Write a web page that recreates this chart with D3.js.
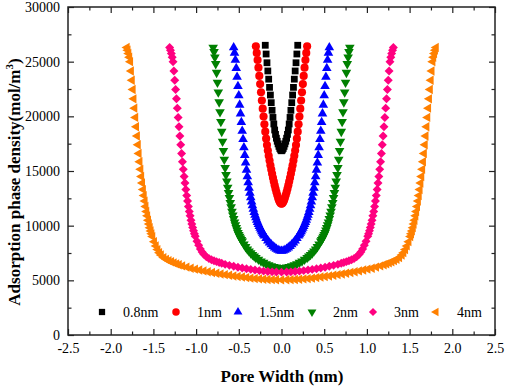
<!DOCTYPE html>
<html><head><meta charset="utf-8">
<script src="https://cdn.jsdelivr.net/npm/d3@7"></script>
<style>body{margin:0;background:#fff}svg{display:block}</style>
</head><body>
<svg id="chart" width="505" height="390"></svg>
<script>
// ---------------- data ----------------
const seriesNames = ["0.8nm","1nm","1.5nm","2nm","3nm","4nm"];
const seriesColors = ["#000000","#ff0000","#0000ff","#008000","#ff0080","#ff8000"];

const s08 = [[-0.19,26500],[-0.18,25700],[-0.17,24900],[-0.16,24150],[-0.15,23400],[-0.14,22650],[-0.13,21950],[-0.12,21250],[-0.11,20550],[-0.10,19900],[-0.09,19300],[-0.08,18750],[-0.07,18350],[-0.06,18000],[-0.05,17720],[-0.04,17480],[-0.03,17250],[-0.02,17060],[-0.01,16920],[0,16850],[0.01,16920],[0.02,17060],[0.03,17250],[0.04,17480],[0.05,17720],[0.06,18000],[0.07,18350],[0.08,18750],[0.09,19300],[0.10,19900],[0.11,20550],[0.12,21250],[0.13,21950],[0.14,22650],[0.15,23400],[0.16,24150],[0.17,24900],[0.18,25700],[0.19,26500]];

const s1 = [[-0.30,26400],[-0.29,25800],[-0.28,25150],[-0.27,24450],[-0.26,23700],[-0.25,22950],[-0.24,22200],[-0.23,21450],[-0.22,20700],[-0.21,19980],[-0.20,19280],[-0.19,18600],[-0.18,17960],[-0.17,17370],[-0.16,16870],[-0.15,16400],[-0.14,15950],[-0.13,15530],[-0.12,15130],[-0.11,14750],[-0.10,14380],[-0.09,14030],[-0.08,13700],[-0.07,13380],[-0.06,13080],[-0.05,12800],[-0.04,12550],[-0.03,12330],[-0.02,12160],[-0.01,12040],[0,12000],[0.01,12040],[0.02,12160],[0.03,12330],[0.04,12550],[0.05,12800],[0.06,13080],[0.07,13380],[0.08,13700],[0.09,14030],[0.10,14380],[0.11,14750],[0.12,15130],[0.13,15530],[0.14,15950],[0.15,16400],[0.16,16870],[0.17,17370],[0.18,17960],[0.19,18600],[0.20,19280],[0.21,19980],[0.22,20700],[0.23,21450],[0.24,22200],[0.25,22950],[0.26,23700],[0.27,24450],[0.28,25150],[0.29,25800],[0.30,26400]];

const s15 = [[-0.56,26300],[-0.55,25800],[-0.54,25150],[-0.53,24400],[-0.52,23600],[-0.51,22750],[-0.50,21900],[-0.49,21050],[-0.48,20250],[-0.47,19450],[-0.46,18650],[-0.45,17900],[-0.44,17150],[-0.43,16450],[-0.42,15750],[-0.41,15100],[-0.40,14500],[-0.39,13950],[-0.38,13450],[-0.37,13000],[-0.36,12580],[-0.35,12200],[-0.34,11850],[-0.33,11530],[-0.32,11240],[-0.31,10980],[-0.30,10740],[-0.29,10520],[-0.28,10320],[-0.27,10130],[-0.26,9950],[-0.25,9780],[-0.24,9620],[-0.23,9470],[-0.22,9330],[-0.21,9200],[-0.20,9070],[-0.18,8840],[-0.16,8630],[-0.14,8440],[-0.12,8270],[-0.10,8120],[-0.08,7990],[-0.06,7870],[-0.04,7770],[-0.02,7700],[0,7680],[0.02,7700],[0.04,7770],[0.06,7870],[0.08,7990],[0.10,8120],[0.12,8270],[0.14,8440],[0.16,8630],[0.18,8840],[0.20,9070],[0.21,9200],[0.22,9330],[0.23,9470],[0.24,9620],[0.25,9780],[0.26,9950],[0.27,10130],[0.28,10320],[0.29,10520],[0.30,10740],[0.31,10980],[0.32,11240],[0.33,11530],[0.34,11850],[0.35,12200],[0.36,12580],[0.37,13000],[0.38,13450],[0.39,13950],[0.40,14500],[0.41,15100],[0.42,15750],[0.43,16450],[0.44,17150],[0.45,17900],[0.46,18650],[0.47,19450],[0.48,20250],[0.49,21050],[0.50,21900],[0.51,22750],[0.52,23600],[0.53,24400],[0.54,25150],[0.55,25800],[0.56,26300]];

const s2 = [[-0.80,26300],[-0.79,25900],[-0.78,25400],[-0.77,24800],[-0.76,24000],[-0.75,23100],[-0.74,22200],[-0.73,21300],[-0.72,20400],[-0.71,19500],[-0.70,18600],[-0.69,17700],[-0.68,16850],[-0.67,16050],[-0.66,15300],[-0.65,14650],[-0.64,14050],[-0.63,13500],[-0.62,13000],[-0.61,12550],[-0.60,12100],[-0.59,11700],[-0.58,11300],[-0.57,10950],[-0.56,10620],[-0.55,10320],[-0.54,10050],[-0.53,9800],[-0.52,9570],[-0.51,9360],[-0.50,9170],[-0.49,9000],[-0.48,8840],[-0.47,8700],[-0.46,8570],[-0.44,8300],[-0.42,8060],[-0.40,7850],[-0.38,7660],[-0.36,7490],[-0.34,7340],[-0.32,7200],[-0.30,7070],[-0.27,6900],[-0.24,6750],[-0.21,6620],[-0.18,6500],[-0.15,6400],[-0.12,6310],[-0.09,6240],[-0.06,6190],[-0.03,6160],[0,6150],[0.03,6160],[0.06,6190],[0.09,6240],[0.12,6310],[0.15,6400],[0.18,6500],[0.21,6620],[0.24,6750],[0.27,6900],[0.30,7070],[0.32,7200],[0.34,7340],[0.36,7490],[0.38,7660],[0.40,7850],[0.42,8060],[0.44,8300],[0.46,8570],[0.47,8700],[0.48,8840],[0.49,9000],[0.50,9170],[0.51,9360],[0.52,9570],[0.53,9800],[0.54,10050],[0.55,10320],[0.56,10620],[0.57,10950],[0.58,11300],[0.59,11700],[0.60,12100],[0.61,12550],[0.62,13000],[0.63,13500],[0.64,14050],[0.65,14650],[0.66,15300],[0.67,16050],[0.68,16850],[0.69,17700],[0.70,18600],[0.71,19500],[0.72,20400],[0.73,21300],[0.74,22200],[0.75,23100],[0.76,24000],[0.77,24800],[0.78,25400],[0.79,25900],[0.80,26300]];

const s3 = [[-1.31,26300],[-1.30,26050],[-1.29,25750],[-1.28,25400],[-1.27,25000],[-1.26,24150],[-1.25,23300],[-1.24,22450],[-1.23,21600],[-1.22,20750],[-1.21,19900],[-1.20,19050],[-1.19,18200],[-1.18,17400],[-1.17,16600],[-1.16,15850],[-1.15,15150],[-1.14,14500],[-1.13,13900],[-1.12,13300],[-1.11,12750],[-1.10,12250],[-1.09,11750],[-1.08,11300],[-1.07,10900],[-1.06,10500],[-1.05,10150],[-1.04,9830],[-1.03,9540],[-1.02,9270],[-1.01,9030],[-0.99,8580],[-0.97,8200],[-0.95,7870],[-0.93,7600],[-0.91,7390],[-0.88,7160],[-0.85,7000],[-0.82,6890],[-0.79,6800],[-0.76,6710],[-0.73,6630],[-0.70,6560],[-0.66,6460],[-0.61,6370],[-0.56,6280],[-0.51,6200],[-0.46,6130],[-0.41,6060],[-0.36,6000],[-0.31,5940],[-0.26,5890],[-0.21,5840],[-0.16,5800],[-0.11,5775],[-0.06,5760],[0,5750],[0.06,5760],[0.11,5775],[0.16,5800],[0.21,5840],[0.26,5890],[0.31,5940],[0.36,6000],[0.41,6060],[0.46,6130],[0.51,6200],[0.56,6280],[0.61,6370],[0.66,6460],[0.70,6560],[0.73,6630],[0.76,6710],[0.79,6800],[0.82,6890],[0.85,7000],[0.88,7160],[0.91,7390],[0.93,7600],[0.95,7870],[0.97,8200],[0.99,8580],[1.01,9030],[1.02,9270],[1.03,9540],[1.04,9830],[1.05,10150],[1.06,10500],[1.07,10900],[1.08,11300],[1.09,11750],[1.10,12250],[1.11,12750],[1.12,13300],[1.13,13900],[1.14,14500],[1.15,15150],[1.16,15850],[1.17,16600],[1.18,17400],[1.19,18200],[1.20,19050],[1.21,19900],[1.22,20750],[1.23,21600],[1.24,22450],[1.25,23300],[1.26,24150],[1.27,25000],[1.28,25400],[1.29,25750],[1.30,26050],[1.31,26300]];

const s4 = [[-1.81,26300],[-1.80,26050],[-1.79,25750],[-1.78,25400],[-1.77,25000],[-1.76,24150],[-1.75,23300],[-1.74,22450],[-1.73,21600],[-1.72,20750],[-1.71,19900],[-1.70,19050],[-1.69,18200],[-1.68,17400],[-1.67,16600],[-1.66,15850],[-1.65,15150],[-1.64,14500],[-1.63,13900],[-1.62,13300],[-1.61,12750],[-1.60,12250],[-1.59,11750],[-1.58,11300],[-1.57,10900],[-1.56,10500],[-1.55,10150],[-1.54,9820],[-1.53,9520],[-1.52,9250],[-1.51,9000],[-1.49,8540],[-1.47,8150],[-1.45,7810],[-1.43,7530],[-1.41,7320],[-1.38,7080],[-1.35,6920],[-1.32,6800],[-1.29,6700],[-1.26,6600],[-1.23,6510],[-1.20,6430],[-1.16,6320],[-1.11,6210],[-1.06,6110],[-1.01,6020],[-0.96,5940],[-0.91,5860],[-0.86,5790],[-0.81,5720],[-0.76,5650],[-0.71,5580],[-0.66,5520],[-0.61,5460],[-0.56,5400],[-0.51,5350],[-0.46,5300],[-0.41,5250],[-0.36,5200],[-0.31,5160],[-0.26,5130],[-0.21,5100],[-0.16,5080],[-0.11,5060],[-0.06,5050],[0,5040],[0.06,5050],[0.11,5060],[0.16,5080],[0.21,5100],[0.26,5130],[0.31,5160],[0.36,5200],[0.41,5250],[0.46,5300],[0.51,5350],[0.56,5400],[0.61,5460],[0.66,5520],[0.71,5580],[0.76,5650],[0.81,5720],[0.86,5790],[0.91,5860],[0.96,5940],[1.01,6020],[1.06,6110],[1.11,6210],[1.16,6320],[1.20,6430],[1.23,6510],[1.26,6600],[1.29,6700],[1.32,6800],[1.35,6920],[1.38,7080],[1.41,7320],[1.43,7530],[1.45,7810],[1.47,8150],[1.49,8540],[1.51,9000],[1.52,9250],[1.53,9520],[1.54,9820],[1.55,10150],[1.56,10500],[1.57,10900],[1.58,11300],[1.59,11750],[1.60,12250],[1.61,12750],[1.62,13300],[1.63,13900],[1.64,14500],[1.65,15150],[1.66,15850],[1.67,16600],[1.68,17400],[1.69,18200],[1.70,19050],[1.71,19900],[1.72,20750],[1.73,21600],[1.74,22450],[1.75,23300],[1.76,24150],[1.77,25000],[1.78,25400],[1.79,25750],[1.80,26050],[1.81,26300]];

const xTickValues = [-2.5,-2.0,-1.5,-1.0,-0.5,0.0,0.5,1.0,1.5,2.0,2.5];
const xTickLabels = ["-2.5","-2.0","-1.5","-1.0","-0.5","0.0","0.5","1.0","1.5","2.0","2.5"];
const yTickValues = [0,5000,10000,15000,20000,25000,30000];
const yTickLabels = ["0","5000","10000","15000","20000","25000","30000"];
const xTitle = "Pore Width (nm)";
const yTitle = "Adsorption phase density(mol/m";

// ---------------- drawing ----------------
const allSeries = [s08, s1, s15, s2, s3, s4];
const svg = d3.select("#chart");
const L = 68, R = 495, T = 7, B = 335;
const x = d3.scaleLinear().domain([-2.5, 2.5]).range([L, R]);
const y = d3.scaleLinear().domain([0, 30000]).range([B, T]);
const serif = "'Liberation Serif','Times New Roman',Times,serif";

// marker definitions: [d3 symbol type, size (area), rotation]
const markers = [
  [d3.symbolSquare, 46, 0],
  [d3.symbolCircle, 52, 0],
  [d3.symbolTriangle, 40, 0],
  [d3.symbolTriangle, 40, 180],
  [d3.symbolSquare, 40, 45],
  [d3.symbolTriangle, 38, -90]
];

const plot = svg.append("g");
allSeries.forEach((data, i) => {
  const [type, size, rot] = markers[i];
  const path = d3.symbol().type(type).size(size)();
  plot.append("g").selectAll("path").data(data).join("path")
    .attr("d", path)
    .attr("fill", seriesColors[i])
    .attr("transform", d => `translate(${x(d[0])},${y(d[1])}) rotate(${rot})`);
});

// axes
function styleAxis(g) {
  g.select(".domain").remove();
  g.selectAll(".tick line").attr("stroke", "#222").attr("stroke-width", 1.2);
  g.selectAll(".tick text").attr("font-family", serif).attr("font-size", 14).attr("fill", "#000");
}
const xMinor = d3.range(-2.25, 2.5, 0.5);
const yMinor = d3.range(2500, 30000, 5000);

svg.append("g").attr("transform", `translate(0,${B})`)
  .call(d3.axisBottom(x).tickValues(xTickValues).tickSize(-6).tickPadding(8).tickFormat((d, i) => xTickLabels[i]))
  .call(styleAxis);
svg.append("g").attr("transform", `translate(0,${B})`)
  .call(d3.axisBottom(x).tickValues(xMinor).tickSize(-3.5).tickFormat(""))
  .call(styleAxis);
svg.append("g").attr("transform", `translate(0,${T})`)
  .call(d3.axisTop(x).tickValues(xTickValues).tickSize(-6).tickFormat(""))
  .call(styleAxis);
svg.append("g").attr("transform", `translate(0,${T})`)
  .call(d3.axisTop(x).tickValues(xMinor).tickSize(-3.5).tickFormat(""))
  .call(styleAxis);
svg.append("g").attr("transform", `translate(${L},0)`)
  .call(d3.axisLeft(y).tickValues(yTickValues).tickSize(-6).tickPadding(8).tickFormat((d, i) => yTickLabels[i]))
  .call(styleAxis);
svg.append("g").attr("transform", `translate(${L},0)`)
  .call(d3.axisLeft(y).tickValues(yMinor).tickSize(-3.5).tickFormat(""))
  .call(styleAxis);
svg.append("g").attr("transform", `translate(${R},0)`)
  .call(d3.axisRight(y).tickValues(yTickValues).tickSize(-6).tickFormat(""))
  .call(styleAxis);
svg.append("g").attr("transform", `translate(${R},0)`)
  .call(d3.axisRight(y).tickValues(yMinor).tickSize(-3.5).tickFormat(""))
  .call(styleAxis);

svg.append("rect").attr("x", L).attr("y", T).attr("width", R - L).attr("height", B - T)
  .attr("fill", "none").attr("stroke", "#222").attr("stroke-width", 1.5);

// axis titles
svg.append("text").attr("x", 282).attr("y", 382).attr("text-anchor", "middle")
  .attr("font-family", serif).attr("font-weight", "bold").attr("font-size", 17).text(xTitle);
const yt = svg.append("text").attr("transform", "translate(20,182) rotate(-90)").attr("text-anchor", "middle")
  .attr("font-family", serif).attr("font-weight", "bold").attr("font-size", 17);
yt.append("tspan").text(yTitle);
yt.append("tspan").attr("font-size", 11).attr("dy", -7).text("3");
yt.append("tspan").attr("dy", 7).text(")");

// legend
const legendX = [102, 176, 238, 312, 373, 436];
const lg = svg.append("g");
seriesNames.forEach((name, i) => {
  const [type, size, rot] = markers[i];
  lg.append("path").attr("d", d3.symbol().type(type).size(size * 0.85)())
    .attr("fill", seriesColors[i])
    .attr("transform", `translate(${legendX[i]},312) rotate(${rot})`);
  lg.append("text").attr("x", legendX[i] + 21).attr("y", 317)
    .attr("font-family", serif).attr("font-size", 14).text(name);
});
</script>
</body></html>
